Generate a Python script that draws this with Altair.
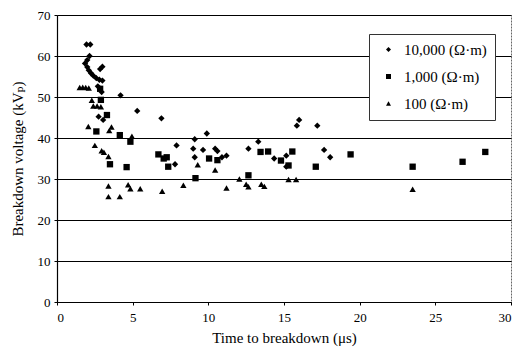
import altair as alt
import pandas as pd

# 10,000 Ohm-m (diamonds)
d_time = [1.95, 2.2, 2.15, 2.0, 1.85, 2.0, 2.1, 2.25, 2.4, 2.6, 2.8, 3.0, 2.85, 3.0, 2.7, 2.95,
          4.2, 5.3, 2.75, 3.05, 6.9, 7.9, 9.0, 9.1, 9.9, 9.65, 10.45, 10.6, 7.8, 9.1, 10.9, 11.2,
          12.65, 13.3, 14.35, 15.15, 15.15, 15.85, 16.0, 17.2, 17.65, 18.05]
d_volt = [62.8, 62.8, 60.0, 59.0, 58.2, 57.3, 56.5, 55.8, 55.2, 54.6, 54.2, 54.0, 56.8, 57.4, 52.6, 51.2,
          50.4, 46.6, 45.2, 44.4, 44.8, 38.2, 37.4, 39.7, 41.1, 37.1, 37.4, 36.8, 33.6, 35.3, 35.3, 35.7,
          37.4, 39.1, 35.0, 35.7, 33.0, 43.0, 44.4, 43.0, 37.1, 35.3]

# 1,000 Ohm-m (squares)
s_time = [2.85, 2.9, 3.3, 2.6, 4.15, 4.85, 3.5, 4.6, 6.7, 7.05, 7.25, 7.35, 9.15, 10.05, 10.6,
          12.65, 13.45, 13.95, 14.8, 15.55, 15.3, 17.1, 19.4, 23.5, 26.8, 28.3]
s_volt = [52.0, 49.3, 45.6, 41.6, 40.7, 39.1, 33.6, 32.9, 36.0, 35.0, 35.3, 33.0, 30.2, 35.0, 34.6,
          30.9, 36.6, 36.7, 34.5, 36.7, 33.3, 33.0, 36.0, 33.0, 34.2, 36.6]

# 100 Ohm-m (triangles)
t_time = [1.5, 1.7, 1.9, 2.1, 2.3, 2.4, 2.65, 2.9, 2.07, 3.6, 3.45, 4.95, 2.5, 2.95, 3.1, 3.4,
          3.4, 3.4, 4.15, 4.7, 4.85, 5.5, 6.95, 8.35, 9.3, 10.45, 11.2, 12.05, 12.5, 12.65, 13.5,
          13.7, 15.3, 15.8, 23.5]
t_volt = [52.3, 52.4, 52.3, 52.2, 49.2, 47.8, 47.8, 47.6, 42.8, 42.7, 41.8, 40.4, 38.2, 36.9, 36.5, 35.5,
          28.3, 25.7, 25.7, 28.6, 27.6, 27.6, 27.0, 28.5, 33.5, 32.2, 27.8, 30.0, 28.7, 28.1, 28.7,
          28.2, 29.9, 29.9, 27.5]

series_names = ["10,000 (\u03a9\u00b7m)", "1,000 (\u03a9\u00b7m)", "100 (\u03a9\u00b7m)"]
shapes = ["diamond", "square", "triangle-up"]

rows = []
for name, xs, ys in zip(series_names, [d_time, s_time, t_time], [d_volt, s_volt, t_volt]):
    for x, y in zip(xs, ys):
        rows.append({"time": x, "voltage": y, "series": name})
df = pd.DataFrame(rows)

serif = "Liberation Serif, Times New Roman, DejaVu Serif, serif"

chart = alt.Chart(df).mark_point(filled=True, opacity=1, color="black", size=40).encode(
    x=alt.X("time:Q", scale=alt.Scale(domain=[0, 30], nice=False),
            axis=alt.Axis(values=[0, 5, 10, 15, 20, 25, 30], title="Time to breakdown (\u03bcs)",
                          grid=False, tickSize=3, labelPadding=6, titlePadding=6)),
    y=alt.Y("voltage:Q", scale=alt.Scale(domain=[0, 70], nice=False),
            axis=alt.Axis(values=[0, 10, 20, 30, 40, 50, 60, 70], title="Breakdown voltage (kV\u209a)",
                          grid=True, tickSize=3, labelPadding=4, titlePadding=12)),
    shape=alt.Shape("series:N", scale=alt.Scale(domain=series_names, range=shapes),
                    legend=alt.Legend(title=None, orient="none", legendX=312, legendY=19,
                                      strokeColor="#333", fillColor="white", padding=8,
                                      rowPadding=11, symbolSize=25, symbolFillColor="black",
                                      symbolStrokeColor="black", labelFont=serif, labelFontSize=15,
                                      labelColor="black", symbolOffset=4, labelOffset=8)),
).properties(
    width=454, height=287,
    autosize=alt.AutoSizeParams(type="none"),
    padding={"left": 49, "top": 7, "right": 12, "bottom": 45},
).configure_view(
    stroke="#666", strokeDash=[2, 1], strokeWidth=1
).configure_axis(
    domainColor="black", domainWidth=1.2, tickColor="black", gridColor="black", gridWidth=1.2,
    labelFont=serif, labelFontSize=13, labelColor="black",
    titleFont=serif, titleFontSize=15, titleFontWeight="normal", titleColor="black",
)

chart.save("out.html", embed_options={"renderer": "svg", "actions": False})
